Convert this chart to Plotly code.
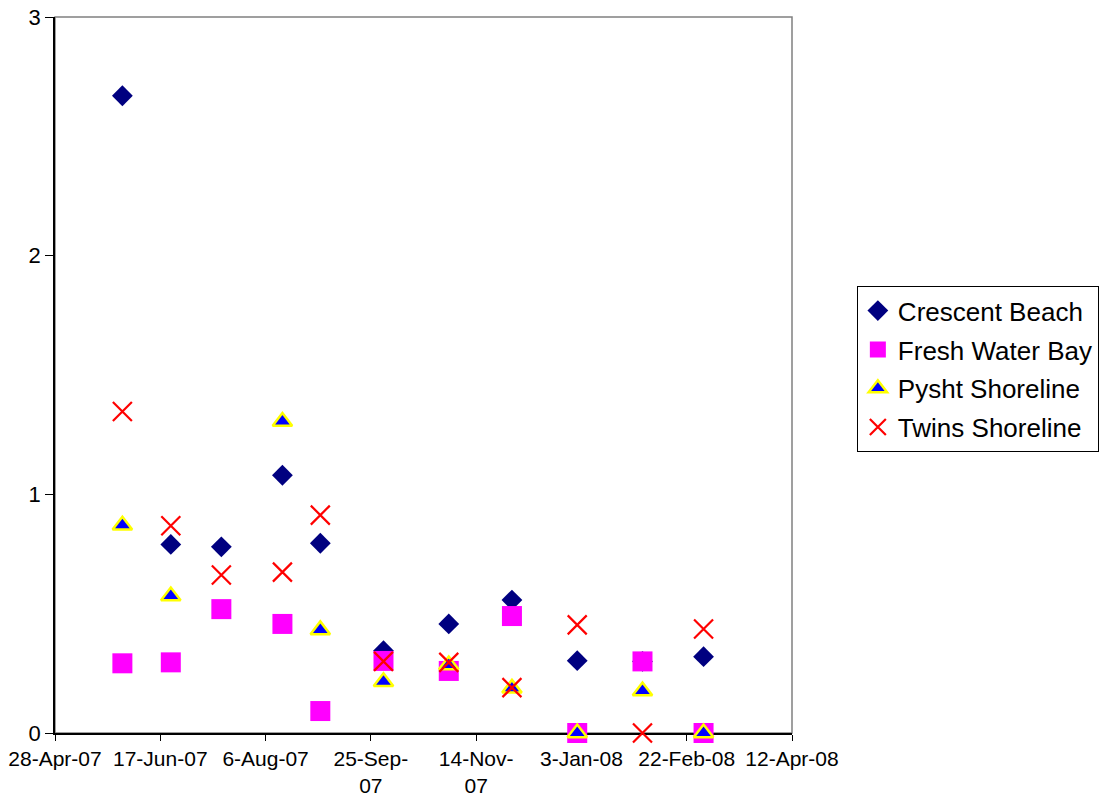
import plotly.graph_objects as go

dates = ["2007-05-30", "2007-06-22", "2007-07-16", "2007-08-14", "2007-09-01",
         "2007-10-01", "2007-11-01", "2007-12-01", "2008-01-01", "2008-02-01", "2008-03-01"]

crescent_beach = [2.67, 0.79, 0.78, 1.08, 0.795, 0.345, 0.457, 0.557, 0.303, 0.30, 0.32]
fresh_water_bay = [0.292, 0.296, 0.519, 0.457, 0.092, 0.302, 0.26, 0.49, 0.0, 0.30, 0.0]
pysht_shoreline = [0.87, 0.574, None, 1.305, 0.432, 0.215, 0.285, 0.187, 0.0, 0.176, 0.0]
twins_shoreline = [1.347, 0.868, 0.662, 0.674, 0.913, 0.30, 0.296, 0.19, 0.453, 0.0, 0.436]

tick_dates = ["2007-04-28", "2007-06-17", "2007-08-06", "2007-09-25", "2007-11-14",
              "2008-01-03", "2008-02-22", "2008-04-12"]
tick_text = ["28-Apr-07", "17-Jun-07", "6-Aug-07", "25-Sep-<br>07", "14-Nov-<br>07",
             "3-Jan-08", "22-Feb-08", "12-Apr-08"]

FONT = "Liberation Sans, Arial, sans-serif"

fig = go.Figure()
fig.add_trace(go.Scatter(x=dates, y=crescent_beach, mode="markers", name="Crescent Beach",
                         legendgroup="a", cliponaxis=False,
                         marker=dict(symbol="diamond", size=16, color="#000080",
                                     line=dict(width=0))))
fig.add_trace(go.Scatter(x=dates, y=fresh_water_bay, mode="markers", name="Fresh Water Bay",
                         legendgroup="b", cliponaxis=False,
                         marker=dict(symbol="square", size=20, color="#FF00FF",
                                     line=dict(width=0))))
fig.add_trace(go.Scatter(x=dates, y=pysht_shoreline, mode="markers", name="Pysht Shoreline",
                         legendgroup="c", cliponaxis=False,
                         marker=dict(symbol="triangle-up", size=17, color="#0000FF",
                                     line=dict(width=2.5, color="#FFFF00"))))
fig.add_trace(go.Scatter(x=dates, y=twins_shoreline, mode="markers", name="Twins Shoreline",
                         legendgroup="d", cliponaxis=False,
                         marker=dict(symbol="x-thin", size=19, color="#FF0000",
                                     line=dict(width=2.2, color="#FF0000"))))

fig.update_layout(
    width=1110, height=803,
    margin=dict(l=55, r=318, t=17, b=70, autoexpand=False),
    paper_bgcolor="white", plot_bgcolor="white",
    font=dict(family=FONT, size=21, color="black"),
    showlegend=True,
    legend=dict(x=1.088, y=0.624, xanchor="left", yanchor="top",
                bordercolor="black", borderwidth=1, bgcolor="white",
                font=dict(family=FONT, size=26, color="black"),
                traceorder="grouped", tracegroupgap=2, itemwidth=30),
    xaxis=dict(type="date", range=["2007-04-28", "2008-04-12"],
               tickmode="array", tickvals=tick_dates, ticktext=tick_text,
               showgrid=False, zeroline=False, showline=True, linecolor="black", linewidth=1.5,
               ticks="outside", ticklen=6, tickcolor="black", tickangle=0, automargin=False,
               ticklabeloverflow="allow", layer="below traces",
               tickfont=dict(family=FONT, size=21, color="black")),
    yaxis=dict(range=[0, 3], tickmode="linear", tick0=0, dtick=1,
               showgrid=False, zeroline=False, showline=True, linecolor="black", linewidth=1.5,
               ticks="outside", ticklen=8, tickcolor="black", automargin=False,
               ticklabeloverflow="allow", layer="below traces",
               tickfont=dict(family=FONT, size=22, color="black")),
)

fig.add_shape(type="rect", xref="paper", yref="paper", x0=0, y0=0, x1=1, y1=1,
              line=dict(color="#808080", width=1.5), layer="below")

fig.write_html("out.html",
               config={"displayModeBar": False},
               post_script="document.body.style.margin='0';document.body.style.overflow='hidden';")
